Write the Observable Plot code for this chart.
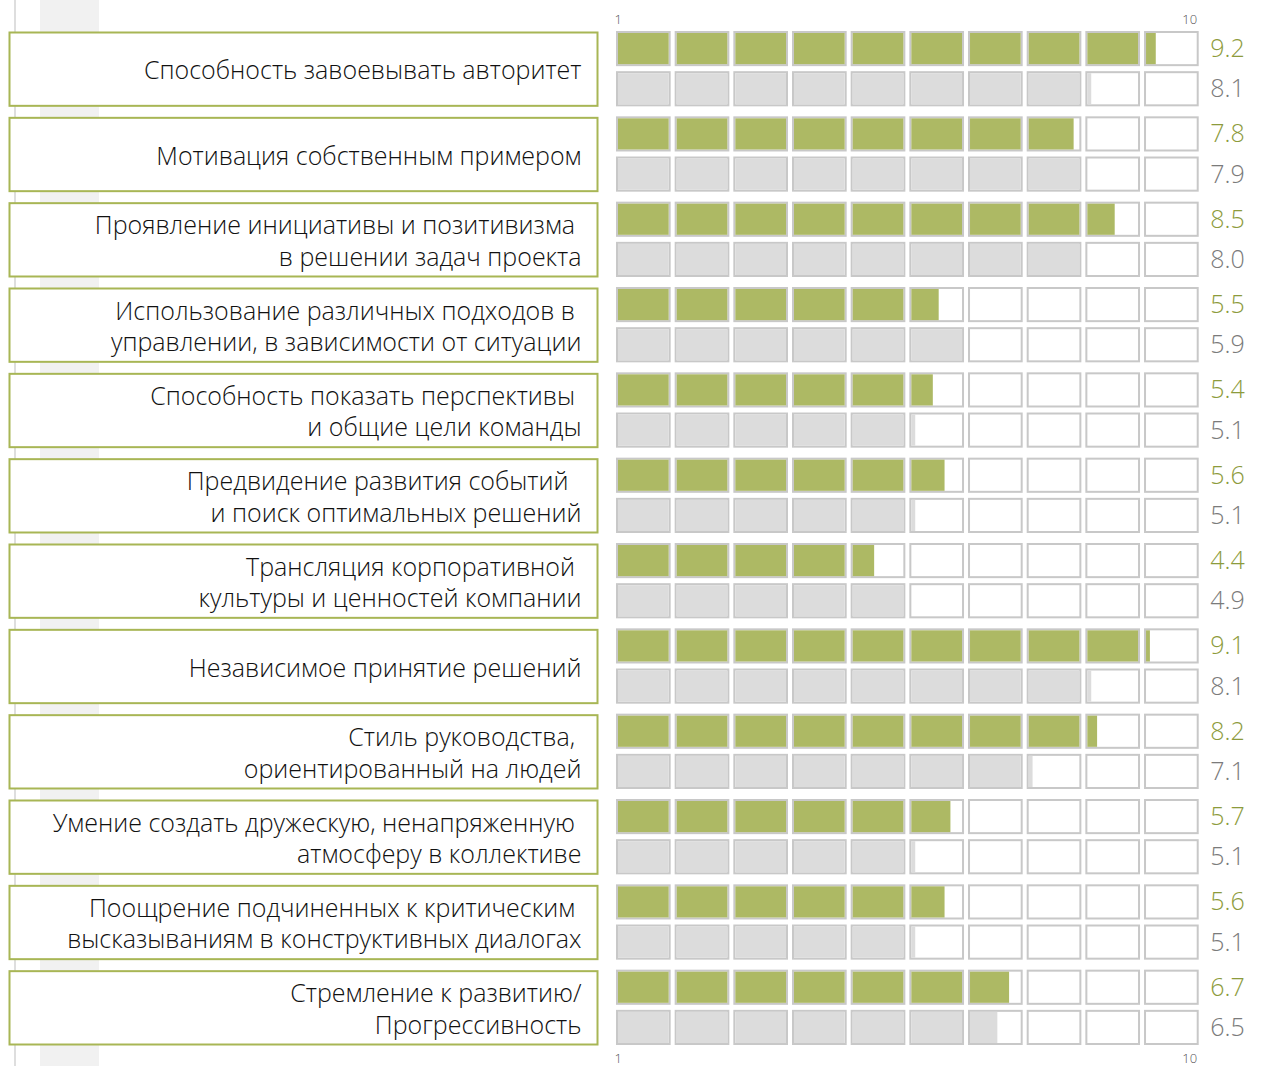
<!DOCTYPE html>
<html>
<head>
<meta charset="utf-8">
<script src="https://cdn.jsdelivr.net/npm/d3@7"></script>
<script src="https://cdn.jsdelivr.net/npm/@observablehq/plot@0.6"></script>
<style>
  html, body { margin: 0; padding: 0; background: #fff; }
  #chart {
    width: 1261px; height: 1066px; position: relative;
    background: linear-gradient(to right,
      transparent 14px, #dedede 14px, #dedede 16px, transparent 16px,
      transparent 40px, #f1f1f1 40px, #f1f1f1 99px, transparent 99px);
  }
  #chart svg { display: block; }
</style>
</head>
<body>
<div id="chart"></div>
<script>
// ---- data ----
const categories = [
  "Способность завоевывать авторитет",
  "Мотивация собственным примером",
  "Проявление инициативы и позитивизма\u00a0\nв решении задач проекта",
  "Использование различных подходов в\u00a0\nуправлении, в зависимости от ситуации",
  "Способность показать перспективы\u00a0\nи общие цели команды",
  "Предвидение развития событий\u00a0\u00a0\nи поиск оптимальных решений",
  "Трансляция корпоративной\u00a0\nкультуры и ценностей компании",
  "Независимое принятие решений",
  "Стиль руководства,\u00a0\nориентированный на людей",
  "Умение создать дружескую, ненапряженную\u00a0\nатмосферу в коллективе",
  "Поощрение подчиненных к критическим\u00a0\nвысказываниям в конструктивных диалогах",
  "Стремление к развитию/\nПрогрессивность"
];
const greenValues = [9.2, 7.8, 8.5, 5.5, 5.4, 5.6, 4.4, 9.1, 8.2, 5.7, 5.6, 6.7];
const grayValues  = [8.1, 7.9, 8.0, 5.9, 5.1, 5.1, 4.9, 8.1, 7.1, 5.1, 5.1, 6.5];
const rowKeys = ["green", "gray"];
const tickValues = [0, 10];
const tickLabels = ["1", "10"];
const cellCount = 10;

// ---- derived tables ----
const rows = categories.flatMap((cat, k) => [
  {cat, row: "green", v: greenValues[k]},
  {cat, row: "gray", v: grayValues[k]}
]);
const cells = rows.flatMap(r => d3.range(cellCount).map(i => ({...r, i})));
const fullCells = cells.filter(c => c.v >= c.i + 1);
const partCells = cells.filter(c => c.v > c.i && c.v < c.i + 1);

const fillColor = {green: "#adb964", gray: "#dcdcdc"};
const textColor = {green: "#8d9b3c", gray: "#7b7b7b"};
const W = 1261, H = 1066;
const font = "'Open Sans', 'Noto Sans', sans-serif";
const tickFmt = d => tickLabels[tickValues.indexOf(d)];

const chart = Plot.plot({
  width: W,
  height: H,
  marginTop: 31,
  marginBottom: 21,
  marginLeft: 0,
  marginRight: 0,
  style: {background: "transparent", fontFamily: font},
  x: {domain: [0, cellCount], range: [616, 616 + 58.67 * cellCount]},
  y: {domain: rowKeys, paddingInner: 0.125, paddingOuter: 0, round: false, axis: null},
  fy: {domain: categories, paddingInner: 0.1172, paddingOuter: 0, round: false, axis: null},
  marks: [
    // label boxes
    Plot.frame({fill: "white", stroke: "#a8b655", strokeWidth: 2, insetLeft: 9, insetRight: W - 597, insetTop: 1, insetBottom: 1}),
    Plot.text(categories, {
      fy: d => d, text: d => d, frameAnchor: "left", dx: 581,
      textAnchor: "end", lineAnchor: "middle", lineHeight: 1.26,
      fontSize: 25, fontWeight: 300, fill: "#111"
    }),
    // cells
    Plot.barX(cells, {
      x1: "i", x2: d => d.i + 1, y: "row", fy: "cat",
      fill: "white", stroke: "#c8c8c8", strokeWidth: 2,
      insetLeft: 1, insetRight: 5, insetTop: 1, insetBottom: 1
    }),
    Plot.barX(fullCells, {
      x1: "i", x2: d => d.i + 1, y: "row", fy: "cat",
      fill: d => fillColor[d.row],
      insetLeft: 2, insetRight: 6, insetTop: 2, insetBottom: 2
    }),
    Plot.barX(partCells, {
      x1: "i", x2: "v", y: "row", fy: "cat",
      fill: d => fillColor[d.row],
      insetLeft: 2, insetRight: 0, insetTop: 2, insetBottom: 2
    }),
    // values
    Plot.text(rows, {
      x: () => cellCount, y: "row", fy: "cat",
      text: d => d.v.toFixed(1), dx: 7, textAnchor: "start",
      fill: d => textColor[d.row], fontSize: 25, fontWeight: 300
    }),
    // tick labels
    Plot.axisX({anchor: "top", ticks: [tickValues[0]], tickFormat: tickFmt,
      tickSize: 0, tickPadding: 8, textAnchor: "start", dx: -2, fontSize: 13, fontWeight: 300, color: "#555"}),
    Plot.axisX({anchor: "top", ticks: [tickValues[1]], tickFormat: tickFmt,
      tickSize: 0, tickPadding: 8, textAnchor: "end", dx: -6, fontSize: 13, fontWeight: 300, color: "#555"}),
    Plot.axisX({anchor: "bottom", ticks: [tickValues[0]], tickFormat: tickFmt,
      tickSize: 0, tickPadding: 8, textAnchor: "start", dx: -2, fontSize: 13, fontWeight: 300, color: "#555"}),
    Plot.axisX({anchor: "bottom", ticks: [tickValues[1]], tickFormat: tickFmt,
      tickSize: 0, tickPadding: 8, textAnchor: "end", dx: -6, fontSize: 13, fontWeight: 300, color: "#555"})
  ]
});
document.getElementById("chart").appendChild(chart);
</script>
</body>
</html>
